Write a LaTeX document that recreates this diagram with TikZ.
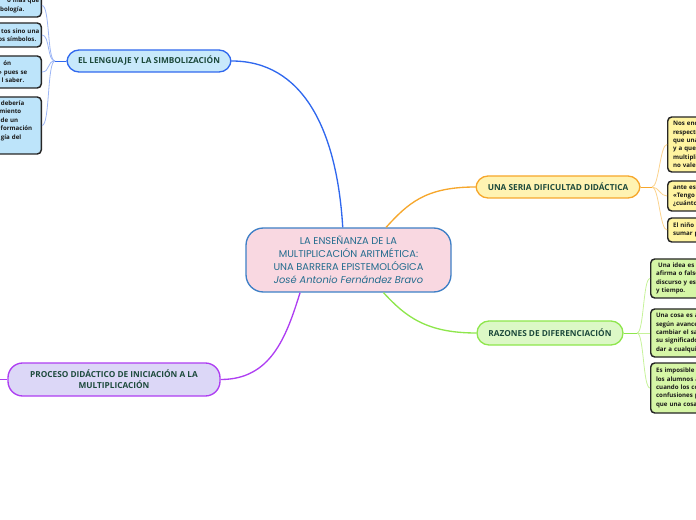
\documentclass[tikz,border=0pt]{standalone}
\usepackage{fontspec}
\setmainfont{Open Sans}
\newfontfamily\titlefont{Poppins}

\definecolor{centrefill}{HTML}{F9D8E1}
\definecolor{centreborder}{HTML}{3E7FC6}
\definecolor{centretext}{HTML}{236C8E}
\definecolor{topictext}{HTML}{1D4A3C}
\definecolor{leaftext}{HTML}{1A1A1A}
\definecolor{bluefill}{HTML}{C8E9FB}
\definecolor{blueline}{HTML}{3068EE}
\definecolor{blueleaf}{HTML}{BDE4FA}
\definecolor{bluetwig}{HTML}{9DB6F5}
\definecolor{yellowfill}{HTML}{FFF3B2}
\definecolor{yellowline}{HTML}{F6A72C}
\definecolor{yellowleaf}{HTML}{FFF4A0}
\definecolor{yellowtwig}{HTML}{FBD38E}
\definecolor{greenfill}{HTML}{DCF8C6}
\definecolor{greenline}{HTML}{8EE64C}
\definecolor{greenleaf}{HTML}{D6F6A6}
\definecolor{greentwig}{HTML}{C6F29A}
\definecolor{purplefill}{HTML}{DCD7F7}
\definecolor{purpleline}{HTML}{AE3EF2}

\tikzset{every picture/.style={line width=0.75pt}}
\tikzset{
	topic/.style={rounded corners=9pt, line width=1pt, align=center, text=topictext, font=\bfseries\fontsize{6.2}{8.2}\selectfont, inner sep=0pt},
	leaf/.style={rounded corners=3pt, draw=black!85, line width=1.1pt, text=leaftext, font=\bfseries\fontsize{4.6}{6.3}\selectfont, inner xsep=4pt, inner ysep=0pt},
	leafright/.style={leaf, anchor=west, text width=90pt, align=left},
	leafleft/.style={leaf, anchor=east, text width=60pt, align=right, inner xsep=1.5pt},
	twig/.style={line width=0.6pt},
	branch/.style={line width=1pt}
}
\newcommand{\cut}[1]{\hspace*{#1pt}\mbox{}}

\begin{document}
\begin{tikzpicture}[x=0.75pt,y=0.75pt,yscale=-1,xscale=1]
		\useasboundingbox (0,0) rectangle (696,520);
		\clip (0,0) rectangle (696,520);
		
		% Centre Node
		\node [draw=centreborder, fill=centrefill, rounded corners=13pt, line width=1pt, minimum width=153.75pt, minimum height=48pt, align=center, text=centretext, font=\titlefont\fontsize{7.4}{9.75}\selectfont] (centre) at (348.5,260) {LA ENSEÑANZA DE LA\\MULTIPLICACIÓN ARITMÉTICA:\\UNA BARRERA EPISTEMOLÓGICA\\\textit{José Antonio Fernández Bravo}};
		
		% Topic Nodes
		\node [topic, draw=blueline, fill=bluefill, minimum width=123pt, minimum height=16.5pt] (lang) at (149,61) {EL LENGUAJE Y LA SIMBOLIZACIÓN};
		\node [topic, draw=yellowline, fill=yellowfill, minimum width=123pt, minimum height=16.5pt] (serious) at (558,187) {UNA SERIA DIFICULTAD DIDÁCTICA};
		\node [topic, draw=greenline, fill=greenfill, minimum width=109.5pt, minimum height=18pt] (reasons) at (550,333) {RAZONES DE DIFERENCIACIÓN};
		\node [topic, draw=purpleline, fill=purplefill, minimum width=159pt, minimum height=24.75pt, rounded corners=11pt] (process) at (114,379.5) {PROCESO DIDÁCTICO DE INICIACIÓN A LA\\MULTIPLICACIÓN};
		
		% Leaf Nodes (blue)
		\node [leafleft, fill=blueleaf, minimum height=17.25pt] (b1) at (42,5.5) {o más que\\mbología.\cut{11.25}};
		\node [leafleft, fill=blueleaf, minimum height=18pt] (b2) at (42,35) {tos sino una\\os símbolos.\cut{2.25}};
		\node [leafleft, fill=blueleaf, minimum height=24pt] (b3) at (42,72) {ón\cut{21}\\» pues se\cut{9}\\l saber.\cut{11.25}};
		\node [leafleft, fill=blueleaf, minimum height=42.75pt] (b4) at (42,125.5) {debería\cut{11.25}\\miento\cut{13.5}\\de un\cut{15.75}\\formación\cut{5.25}\\gía del\cut{13.5}\\\strut};
		
		% Leaf Nodes (yellow)
		\node [leafright, fill=yellowleaf, minimum height=41.25pt] (y1) at (667,144.5) {Nos enco\\respecto\\que una\\y a que, n\\multipli\\no vale c};
		\node [leafright, fill=yellowleaf, minimum height=22.5pt] (y2) at (667,196) {ante esto\\«Tengo 3\\¿cuántos};
		\node [leafright, fill=yellowleaf, minimum height=18pt] (y3) at (667,230) {El niño h\\sumar p};
		
		% Leaf Nodes (green)
		\node [leafright, fill=greenleaf, minimum height=29.25pt] (g1) at (650,278.5) {\ Una idea es m\\afirma o falso\\discurso y es c\\y tiempo.};
		\node [leafright, fill=greenleaf, minimum height=36pt] (g2) at (650,333) {Una cosa es añ\\según avance\\cambiar el sab\\su significado\\dar a cualquie};
		\node [leafright, fill=greenleaf, minimum height=37.5pt] (g3) at (650,388) {Es imposible p\\los alumnos al\\cuando los con\\confusiones p\\que una cosa};
		
		% Joints
		\coordinate (langjoint) at (55,61);
		\coordinate (seriousjoint) at (652,187);
		\coordinate (reasonsjoint) at (637,333);
		\coordinate (processout) at (-10,379.5);
		
		%Curve Lines
		\draw [branch, blueline] (centre.100) .. controls +(-6,-100) and +(70,0) .. (lang.east);
		\draw [branch, yellowline] (centre.41) .. controls +(22,-24) and +(-50,0) .. (serious.west);
		\draw [branch, greenline] (centre.-43) .. controls +(22,24) and +(-50,0) .. (reasons.west);
		\draw [branch, purpleline] (centre.214) .. controls +(-14,45) and +(50,0) .. (process.east);
		\draw [branch, purpleline] (process.west) -- (processout);
		
		%Twig Lines
		\draw [twig, blueline] (lang.west) -- (langjoint);
		\foreach \leaf in {b1,b2,b3,b4}
			\draw [twig, bluetwig] (langjoint) .. controls +(-8,0) and +(8,0) .. (\leaf.east);
		\draw [twig, yellowline] (serious.east) -- (seriousjoint);
		\foreach \leaf in {y1,y2,y3}
			\draw [twig, yellowtwig] (seriousjoint) .. controls +(7,0) and +(-7,0) .. (\leaf.west);
		\draw [twig, greenline] (reasons.east) -- (reasonsjoint);
		\foreach \leaf in {g1,g2,g3}
			\draw [twig, greentwig] (reasonsjoint) .. controls +(7,0) and +(-7,0) .. (\leaf.west);
		
	\end{tikzpicture}
\end{document}
